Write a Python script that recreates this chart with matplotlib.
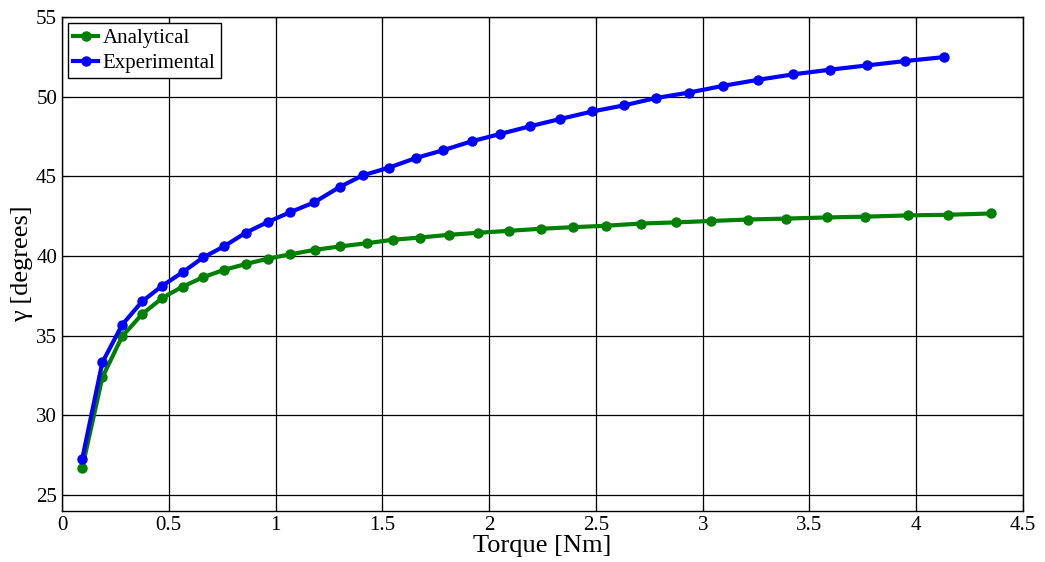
import matplotlib
matplotlib.use('Agg')
import matplotlib.pyplot as plt

# Datos
torque_analitico = [0.095, 0.189, 0.282, 0.376, 0.47, 0.565, 0.661, 0.758, 0.864, 0.966,
                    1.07, 1.185, 1.30, 1.426, 1.548, 1.676, 1.81, 1.949, 2.091, 2.241,
                    2.392, 2.547, 2.709, 2.873, 3.04, 3.21, 3.39, 3.58, 3.76, 3.96, 4.15, 4.35]
gamma_analitico = [26.72, 32.38, 34.96, 36.36, 37.37, 38.08, 38.67, 39.13, 39.51, 39.84,
                   40.11, 40.39, 40.6, 40.8, 41.02, 41.16, 41.33, 41.46, 41.58, 41.71,
                   41.81, 41.9, 42.04, 42.11, 42.2, 42.29, 42.35, 42.42, 42.47, 42.55, 42.59, 42.67]

torque_exp = [0.095, 0.189, 0.282, 0.376, 0.47, 0.565, 0.661, 0.758, 0.860, 0.966,
              1.07, 1.18, 1.30, 1.408, 1.532, 1.657, 1.785, 1.919, 2.052, 2.191,
              2.333, 2.483, 2.63, 2.78, 2.937, 3.096, 3.26, 3.424, 3.595, 3.769, 3.945, 4.128]
gamma_exp = [27.28, 33.32, 35.69, 37.16, 38.14, 38.98, 39.91, 40.6, 41.46, 42.15,
             42.76, 43.36, 44.33, 45.06, 45.55, 46.15, 46.64, 47.2, 47.66, 48.14,
             48.6, 49.07, 49.45, 49.91, 50.26, 50.68, 51.06, 51.4, 51.69, 51.96, 52.23, 52.48]

plt.rcParams['font.family'] = ['Liberation Serif', 'DejaVu Serif']

fig = plt.figure(figsize=(10.45, 5.62), dpi=100)
ax = fig.add_axes([0.0593, 0.0907, 0.9197, 0.8791])

ax.plot(torque_analitico, gamma_analitico, '-o', color='#008000', lw=3, ms=6.5, label='Analytical')
ax.plot(torque_exp, gamma_exp, '-o', color='#0000ff', lw=3, ms=6.5, label='Experimental')

ax.set_xlim(0, 4.5)
ax.set_ylim(24, 55)
ax.set_xticks([0, 0.5, 1, 1.5, 2, 2.5, 3, 3.5, 4, 4.5])
ax.set_xticklabels(['0', '0.5', '1', '1.5', '2', '2.5', '3', '3.5', '4', '4.5'])
ax.set_yticks([25, 30, 35, 40, 45, 50, 55])
ax.tick_params(direction='in', top=True, right=True, labelsize=15, length=5)
ax.grid(True, color='black', lw=0.9)
for s in ax.spines.values():
    s.set_linewidth(1.0)

ax.set_xlabel('Torque [Nm]', fontsize=19, labelpad=0)
ax.set_ylabel('γ [degrees]', fontsize=19, labelpad=2)

leg = ax.legend(loc='upper left', fontsize=15, fancybox=False, edgecolor='black',
                framealpha=1, borderpad=0.25, handlelength=1.2, handletextpad=0.2,
                labelspacing=0.25, borderaxespad=0.3)
leg.get_frame().set_linewidth(1.0)

fig.savefig('out.png', dpi=100)
